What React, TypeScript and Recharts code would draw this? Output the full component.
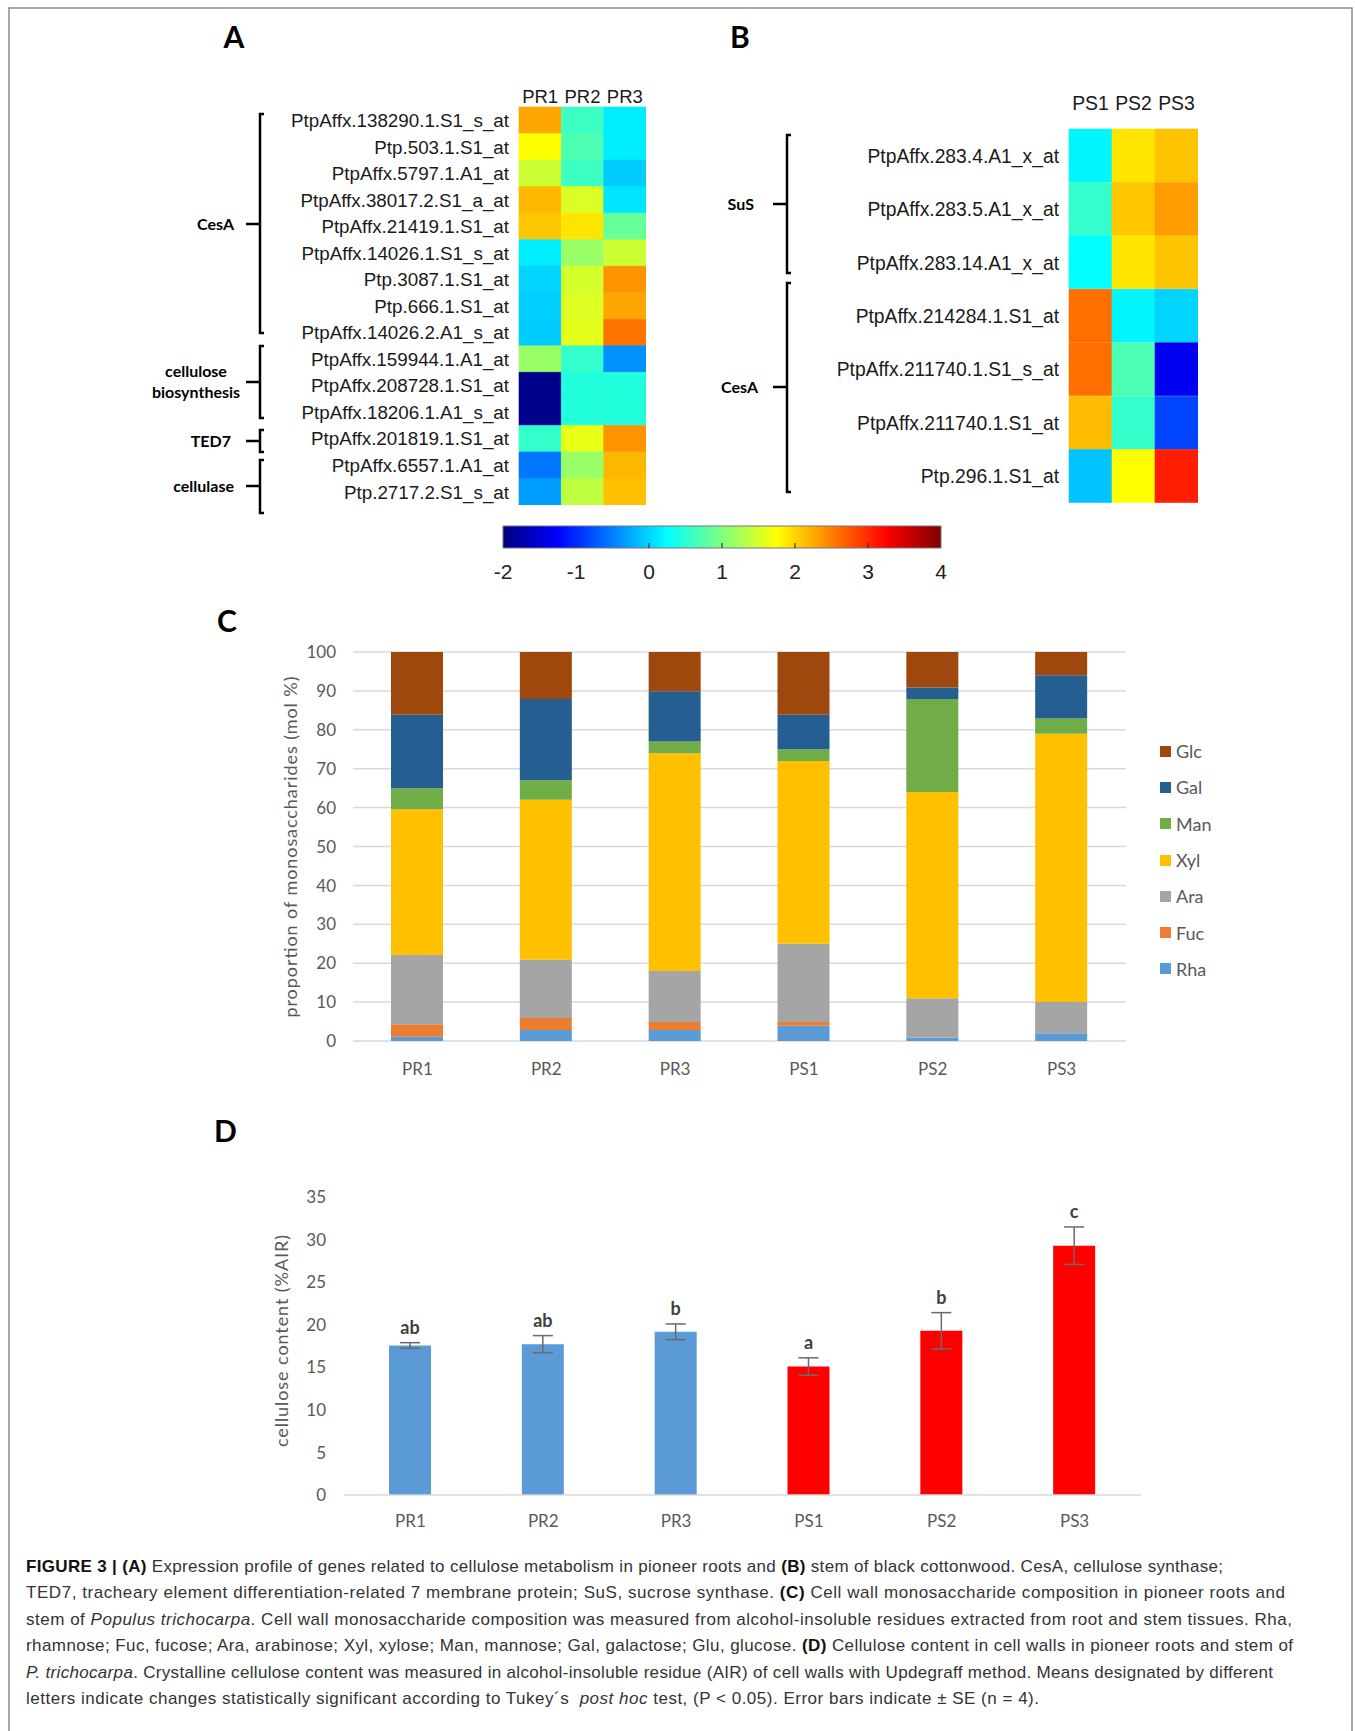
import React from 'react'
import { BarChart, Bar, XAxis, YAxis, Cell, CartesianGrid, ErrorBar, LabelList, Legend } from 'recharts'

const ARIAL = '"Liberation Sans", Arial, Helvetica, sans-serif'
const CALIBRI = 'Lato, "Open Sans", sans-serif'
const AXIS_GREY = '#595959'

// (A) pioneer roots, z-scores per probe
const rootProbes = [
  'PtpAffx.138290.1.S1_s_at', 'Ptp.503.1.S1_at', 'PtpAffx.5797.1.A1_at', 'PtpAffx.38017.2.S1_a_at',
  'PtpAffx.21419.1.S1_at', 'PtpAffx.14026.1.S1_s_at', 'Ptp.3087.1.S1_at', 'Ptp.666.1.S1_at',
  'PtpAffx.14026.2.A1_s_at', 'PtpAffx.159944.1.A1_at', 'PtpAffx.208728.1.S1_at', 'PtpAffx.18206.1.A1_s_at',
  'PtpAffx.201819.1.S1_at', 'PtpAffx.6557.1.A1_at', 'Ptp.2717.2.S1_s_at',
]
const rootCols = ['PR1', 'PR2', 'PR3']
const pr1Expr = [2.27, 1.75, 1.45, 2.17, 2.08, 0.15, 0.0, -0.03, -0.05, 1.15, -1.93, -1.93, 0.55, -0.55, -0.32]
const pr2Expr = [0.6, 0.7, 0.6, 1.54, 1.9, 1.15, 1.5, 1.55, 1.6, 0.55, 0.45, 0.45, 1.62, 1.15, 1.38]
const pr3Expr = [0.15, 0.15, -0.05, 0.1, 0.85, 1.45, 2.38, 2.27, 2.57, -0.4, 0.45, 0.45, 2.38, 2.17, 2.12]

// (B) stem
const stemProbes = [
  'PtpAffx.283.4.A1_x_at', 'PtpAffx.283.5.A1_x_at', 'PtpAffx.283.14.A1_x_at', 'PtpAffx.214284.1.S1_at',
  'PtpAffx.211740.1.S1_s_at', 'PtpAffx.211740.1.S1_at', 'Ptp.296.1.S1_at',
]
const stemCols = ['PS1', 'PS2', 'PS3']
const ps1Expr = [0.2, 0.55, 0.25, 2.6, 2.6, 2.15, -0.1]
const ps2Expr = [1.9, 2.08, 1.9, 0.2, 0.69, 0.55, 1.75]
const ps3Expr = [2.1, 2.33, 2.1, 0.0, -1.34, -0.85, 3.07]

const scaleTicks = [-2, -1, 0, 1, 2, 3, 4]

// (C) monosaccharide composition, mol %
const samples = ['PR1', 'PR2', 'PR3', 'PS1', 'PS2', 'PS3']
const rha = [1.1, 2.8, 2.8, 3.9, 0.9, 2.0]
const fuc = [3.2, 3.1, 2.1, 1.0, 0, 0]
const ara = [17.8, 15.0, 13.1, 20.1, 10.1, 8.0]
const xyl = [37.5, 41.1, 56.0, 47.0, 53.0, 69.0]
const man = [5.4, 5.0, 3.0, 3.0, 23.9, 3.9]
const gal = [18.9, 20.9, 12.9, 8.9, 3.0, 11.1]
const glc = [16.1, 12.1, 10.1, 16.1, 9.1, 6.0]
const sugarNames = ['Rha', 'Fuc', 'Ara', 'Xyl', 'Man', 'Gal', 'Glc']
const sugarColors = ['#5B9BD5', '#ED7D31', '#A5A5A5', '#FFC000', '#70AD47', '#255E91', '#9E480E']
const compTicks = [0, 10, 20, 30, 40, 50, 60, 70, 80, 90, 100]

// (D) cellulose content, %AIR
const cellulose = [17.56, 17.72, 19.17, 15.09, 19.29, 29.28]
const celluloseSE = [0.33, 1.0, 0.92, 1.02, 2.13, 2.2]
const tukey = ['ab', 'ab', 'b', 'a', 'b', 'c']
const cellColors = ['#5B9BD5', '#5B9BD5', '#5B9BD5', '#FF0000', '#FF0000', '#FF0000']
const cellTicks = [0, 5, 10, 15, 20, 25, 30, 35]

function jet(v: number) {
  const t = (v + 2) / 6
  const c = (x: number) => Math.round(255 * Math.max(0, Math.min(1, x)))
  return `rgb(${c(1.5 - Math.abs(4 * t - 3))},${c(1.5 - Math.abs(4 * t - 2))},${c(1.5 - Math.abs(4 * t - 1))})`
}

interface HeatmapProps {
  probes: string[]
  cols: string[]
  values: number[][]
  plotLeft: number
  plotTop: number
  plotRight: number
  plotBottom: number
  labelSize: number
  headerSize: number
  headerOffset: number
}

function Heatmap({ probes, cols, values, plotLeft, plotTop, plotRight, plotBottom, labelSize, headerSize, headerOffset }: HeatmapProps) {
  const data = probes.map((p) => ({ probe: p, c0: 1, c1: 1, c2: 1 }))
  return (
    <div style={{ position: 'absolute', left: 0, top: 0 }}>
      <BarChart
        width={plotRight}
        height={plotBottom}
        data={data}
        layout="vertical"
        margin={{ top: plotTop - 30, right: 0, bottom: 0, left: 0 }}
        barCategoryGap={0}
        barGap={0}
      >
        <XAxis
          type="number"
          orientation="top"
          domain={[0, 3]}
          ticks={[0.5, 1.5, 2.5]}
          height={30}
          axisLine={false}
          tickLine={false}
          tickSize={0}
          tickMargin={0}
          interval={0}
          tick={(p: any) => (
            <text x={p.x} y={p.y - headerOffset} textAnchor="middle" fontFamily={ARIAL} fontSize={headerSize} fill="#1a1a1a">
              {cols[Math.floor(p.payload.value)]}
            </text>
          )}
        />
        <YAxis
          type="category"
          dataKey="probe"
          width={plotLeft}
          axisLine={false}
          tickLine={false}
          tickSize={0}
          tickMargin={10}
          interval={0}
          tick={(p: any) => (
            <text x={p.x} y={p.y} dy="0.36em" textAnchor="end" fontFamily={ARIAL} fontSize={labelSize} fill="#1a1a1a">
              {p.payload.value}
            </text>
          )}
        />
        {cols.map((c, j) => (
          <Bar key={c} dataKey={'c' + j} stackId="h" isAnimationActive={false}>
            {values[j].map((v, i) => (
              <Cell key={i} fill={jet(v)} stroke={jet(v)} strokeWidth={0.6} />
            ))}
          </Bar>
        ))}
      </BarChart>
    </div>
  )
}

function ColorScale() {
  const stops = Array.from({ length: 25 }, (_, k) => k / 24)
  return (
    <div style={{ position: 'absolute', left: 0, top: 0 }}>
      <BarChart
        width={960}
        height={600}
        data={[{ name: 'scale', range: [-2, 4] }]}
        layout="vertical"
        margin={{ top: 526, right: 19, bottom: 12, left: 503 }}
        barCategoryGap={0}
      >
        <defs>
          <linearGradient id="jetGrad" x1="0" y1="0" x2="1" y2="0">
            {stops.map((s) => (
              <stop key={s} offset={s} stopColor={jet(-2 + 6 * s)} />
            ))}
          </linearGradient>
        </defs>
        <XAxis
          type="number"
          domain={[-2, 4]}
          ticks={scaleTicks}
          height={40}
          axisLine={false}
          tickLine={false}
          tickSize={0}
          tickMargin={0}
          interval={0}
          tick={(p: any) => (
            <g>
              {p.payload.value > -2 && p.payload.value < 4 && (
                <line x1={p.x} x2={p.x} y1={p.y - 5} y2={p.y} stroke="#333" strokeWidth={1.2} />
              )}
              <text x={p.x} y={p.y + 31} textAnchor="middle" fontFamily={ARIAL} fontSize={21} fill="#222">
                {p.payload.value}
              </text>
            </g>
          )}
        />
        <YAxis type="category" dataKey="name" hide />
        <Bar dataKey="range" fill="url(#jetGrad)" stroke="#777" strokeWidth={1} isAnimationActive={false} />
      </BarChart>
    </div>
  )
}

function xTick(offset: number) {
  return (p: any) => (
    <text x={p.x} y={p.y + offset} textAnchor="middle" fontFamily={CALIBRI} fontSize={17} fill={AXIS_GREY}>
      {p.payload.value}
    </text>
  )
}

function yTick(gap: number) {
  return (p: any) => (
    <text x={p.x - gap} y={p.y} dy="0.36em" textAnchor="end" fontFamily={CALIBRI} fontSize={17} fill={AXIS_GREY}>
      {p.payload.value}
    </text>
  )
}

function CompositionLegend() {
  const rows = sugarNames.map((n, i) => ({ n, c: sugarColors[i] })).reverse()
  return (
    <div>
      {rows.map((r) => (
        <div key={r.n} style={{ height: 36.3, display: 'flex', alignItems: 'center' }}>
          <span style={{ width: 11, height: 11, background: r.c, display: 'inline-block' }} />
          <span style={{ marginLeft: 5, fontFamily: CALIBRI, fontSize: 18, color: AXIS_GREY }}>{r.n}</span>
        </div>
      ))}
    </div>
  )
}

function CompositionChart() {
  const series = [rha, fuc, ara, xyl, man, gal, glc]
  const data = samples.map((s, i) => {
    const row: Record<string, string | number> = { sample: s }
    sugarNames.forEach((n, k) => {
      row[n] = series[k][i]
    })
    return row
  })
  return (
    <div style={{ position: 'absolute', left: 0, top: 600 }}>
      <BarChart width={1355} height={500} data={data} margin={{ top: 52, right: 229, bottom: 19, left: 0 }} barSize={52}>
        <CartesianGrid vertical={false} stroke="#D9D9D9" strokeWidth={1.5} />
        <XAxis dataKey="sample" height={40} axisLine={false} tickLine={false} tickSize={0} tickMargin={0} interval={0} tick={xTick(34)} />
        <YAxis width={353} domain={[0, 100]} ticks={compTicks} axisLine={false} tickLine={false} tickSize={0} tickMargin={0} tick={yTick(17)} />
        {sugarNames.map((n, k) => (
          <Bar key={n} dataKey={n} stackId="s" fill={sugarColors[k]} isAnimationActive={false} />
        ))}
        <Legend
          layout="vertical"
          align="center"
          verticalAlign="middle"
          wrapperStyle={{ left: 1160, top: 133, width: 120 }}
          content={() => <CompositionLegend />}
        />
      </BarChart>
    </div>
  )
}

function TukeyLabel(props: any) {
  const { x, y, width, height, index } = props
  const perUnit = height / cellulose[index]
  const errTop = y - celluloseSE[index] * perUnit
  return (
    <text x={x + width / 2} y={errTop - 9} textAnchor="middle" fontFamily={CALIBRI} fontWeight={700} fontSize={18} fill="#404040">
      {tukey[index]}
    </text>
  )
}

function CelluloseChart() {
  const data = samples.map((s, i) => ({ sample: s, mean: cellulose[i], se: celluloseSE[i], sig: tukey[i] }))
  return (
    <div style={{ position: 'absolute', left: 0, top: 1150 }}>
      <BarChart width={1355} height={400} data={data} margin={{ top: 47, right: 214, bottom: 15, left: 0 }} barSize={42}>
        <XAxis
          dataKey="sample"
          height={40}
          axisLine={{ stroke: '#D9D9D9', strokeWidth: 1.5 }}
          tickLine={false}
          tickSize={0}
          tickMargin={0}
          interval={0}
          tick={xTick(32)}
        />
        <YAxis width={344} domain={[0, 35]} ticks={cellTicks} axisLine={false} tickLine={false} tickSize={0} tickMargin={0} tick={yTick(18)} />
        <Bar dataKey="mean" isAnimationActive={false}>
          {cellColors.map((c, i) => (
            <Cell key={i} fill={c} />
          ))}
          <ErrorBar dataKey="se" width={10} strokeWidth={1.5} stroke="#6a6a6a" direction="y" />
          <LabelList dataKey="sig" content={TukeyLabel} />
        </Bar>
      </BarChart>
    </div>
  )
}

function Bracket({ x, y1, y2, ym }: { x: number; y1: number; y2: number; ym: number }) {
  return (
    <path
      d={`M${x + 4} ${y1} H${x} V${y2} H${x + 4} M${x - 14} ${ym} H${x}`}
      fill="none"
      stroke="#000"
      strokeWidth={2.5}
    />
  )
}

type Seg = { t: string; b?: boolean; i?: boolean }
const captionLines: { segs: Seg[]; w: number }[] = [
  {
    w: 1197,
    segs: [
      { t: 'FIGURE 3 | (A)', b: true },
      { t: ' Expression profile of genes related to cellulose metabolism in pioneer roots and ' },
      { t: '(B)', b: true },
      { t: ' stem of black cottonwood. CesA, cellulose synthase;' },
    ],
  },
  {
    w: 1259,
    segs: [
      { t: 'TED7, tracheary element differentiation-related 7 membrane protein; SuS, sucrose synthase. ' },
      { t: '(C)', b: true },
      { t: ' Cell wall monosaccharide composition in pioneer roots and' },
    ],
  },
  {
    w: 1266,
    segs: [
      { t: 'stem of ' },
      { t: 'Populus trichocarpa', i: true },
      { t: '. Cell wall monosaccharide composition was measured from alcohol-insoluble residues extracted from root and stem tissues. Rha,' },
    ],
  },
  {
    w: 1267,
    segs: [
      { t: 'rhamnose; Fuc, fucose; Ara, arabinose; Xyl, xylose; Man, mannose; Gal, galactose; Glu, glucose. ' },
      { t: '(D)', b: true },
      { t: ' Cellulose content in cell walls in pioneer roots and stem of' },
    ],
  },
  {
    w: 1247,
    segs: [
      { t: 'P. trichocarpa', i: true },
      { t: '. Crystalline cellulose content was measured in alcohol-insoluble residue (AIR) of cell walls with Updegraff method. Means designated by different' },
    ],
  },
  {
    w: 1013,
    segs: [
      { t: 'letters indicate changes statistically significant according to Tukey´s  ' },
      { t: 'post hoc', i: true },
      { t: ' test, (P < 0.05). Error bars indicate ± SE (n = 4).' },
    ],
  },
]

function Annotations() {
  const bold = { fontFamily: CALIBRI, fontWeight: 700 as const, fill: '#000' }
  return (
    <svg width={1355} height={1731} style={{ position: 'absolute', left: 0, top: 0, pointerEvents: 'none' }}>
      <path d="M9 1731 V8 H1352 V1731" fill="none" stroke="#8a8a8a" strokeWidth={1.5} />

      <text x={234} y={48} textAnchor="middle" fontSize={30} {...bold}>A</text>
      <text x={740} y={48} textAnchor="middle" fontSize={30} {...bold}>B</text>
      <text x={217} y={632} fontSize={30} {...bold}>C</text>
      <text x={214} y={1142} fontSize={30} {...bold}>D</text>

      <Bracket x={260} y1={114} y2={333} ym={224} />
      <Bracket x={260} y1={346} y2={418} ym={382} />
      <Bracket x={260} y1={430} y2={452} ym={441} />
      <Bracket x={260} y1={460} y2={513} ym={486} />
      <text x={234} y={230} textAnchor="end" fontSize={16} {...bold}>CesA</text>
      <text x={196} y={377} textAnchor="middle" fontSize={16} {...bold}>cellulose</text>
      <text x={196} y={398} textAnchor="middle" fontSize={16} {...bold}>biosynthesis</text>
      <text x={231} y={447} textAnchor="end" fontSize={16} {...bold}>TED7</text>
      <text x={234} y={492} textAnchor="end" fontSize={16} {...bold}>cellulase</text>

      <Bracket x={787} y1={135} y2={273} ym={204} />
      <Bracket x={787} y1={283} y2={492} ym={387} />
      <text x={754} y={210} textAnchor="end" fontSize={16} {...bold}>SuS</text>
      <text x={758} y={393} textAnchor="end" fontSize={16} {...bold}>CesA</text>

      <text
        transform="translate(297 847) rotate(-90)"
        textAnchor="middle"
        fontFamily={CALIBRI}
        fontSize={18}
        fill={AXIS_GREY}
        textLength={341}
      >
        proportion of monosaccharides (mol %)
      </text>
      <text
        transform="translate(288 1341) rotate(-90)"
        textAnchor="middle"
        fontFamily={CALIBRI}
        fontSize={18}
        fill={AXIS_GREY}
        textLength={212}
      >
        cellulose content (%AIR)
      </text>

      {captionLines.map((line, k) => (
        <text
          key={k}
          x={26}
          y={1572 + k * 26.4}
          fontFamily={ARIAL}
          fontSize={17}
          fill="#333"
          textLength={line.w}
          lengthAdjust="spacing"
          style={{ whiteSpace: 'pre' }}
        >
          {line.segs.map((s, j) => (
            <tspan key={j} fontWeight={s.b ? 700 : 400} fontStyle={s.i ? 'italic' : 'normal'} fill={s.b ? '#111' : '#333'}>
              {s.t}
            </tspan>
          ))}
        </text>
      ))}
    </svg>
  )
}

export default function App() {
  return (
    <div style={{ position: 'absolute', left: 0, top: 0, width: 1355, height: 1731, background: '#fff', overflow: 'hidden' }}>
      <Heatmap
        probes={rootProbes}
        cols={rootCols}
        values={[pr1Expr, pr2Expr, pr3Expr]}
        plotLeft={519}
        plotTop={107}
        plotRight={646}
        plotBottom={505}
        labelSize={18.8}
        headerSize={18.5}
        headerOffset={4.5}
      />
      <Heatmap
        probes={stemProbes}
        cols={stemCols}
        values={[ps1Expr, ps2Expr, ps3Expr]}
        plotLeft={1069}
        plotTop={129}
        plotRight={1198}
        plotBottom={503}
        labelSize={19.3}
        headerSize={19.4}
        headerOffset={19}
      />
      <ColorScale />
      <CompositionChart />
      <CelluloseChart />
      <Annotations />
    </div>
  )
}
